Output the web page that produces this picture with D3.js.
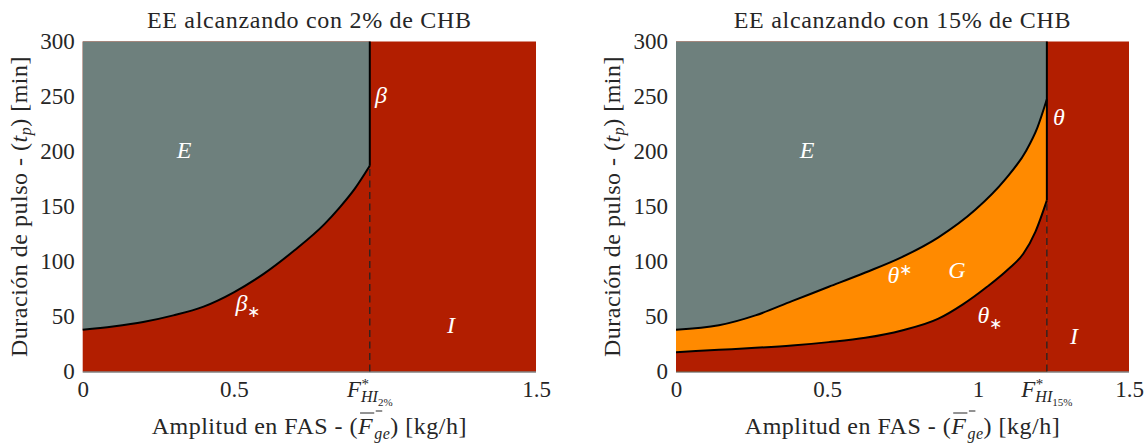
<!DOCTYPE html>
<html>
<head>
<meta charset="utf-8">
<script src="https://cdn.jsdelivr.net/npm/d3@7"></script>
<style>
  html, body { margin: 0; padding: 0; background: #fff; }
  svg { display: block; }
</style>
</head>
<body>
<svg id="chart" width="1146" height="445"></svg>
<script>
// ---------- data ----------
const yTicks = [0, 50, 100, 150, 200, 250, 300];
const xTicksLeft = [0, 0.5, 1.5];
const xTicksRight = [0, 0.5, 1, 1.5];

const titleLeft = "EE alcanzando con 2% de CHB";
const titleRight = "EE alcanzando con 15% de CHB";

// left panel: boundary beta_* (E / I) and F*_HI2%
const fStarLeft = 0.95;
const betaX = [0, 0.1, 0.2, 0.3, 0.4, 0.5, 0.6, 0.7, 0.8, 0.85, 0.9, 0.95];
const betaY = [38, 41, 45, 51, 59, 72, 89, 110, 134, 149, 166, 187];

// right panel: theta^* (E / G) and theta_* (G / I) and F*_HI15%
const fStarRight = 1.228;
const thetaUpX = [0, 0.142, 0.263, 0.384, 0.506, 0.627, 0.748, 0.869, 0.991, 1.088, 1.16, 1.197, 1.228];
const thetaUpY = [38, 42, 51, 64, 77, 90, 104, 122, 147, 174, 201, 222, 247.5];
const thetaLoX = [0, 0.142, 0.263, 0.384, 0.506, 0.627, 0.748, 0.869, 0.95, 1.03, 1.1, 1.15, 1.19, 1.228];
const thetaLoY = [17.6, 19.7, 21.5, 23.7, 26.7, 30.6, 37.3, 48, 61, 77, 93, 107, 127, 155.6];

// ---------- style ----------
const C_GRAY = "#6e807d", C_RED = "#b21e00", C_ORANGE = "#ff8a00", C_TXT = "#262626";
const FONT = '"Liberation Serif", "Times New Roman", serif';
const FS = 24, FS_TICK = 23;

const svg = d3.select("#chart");
const styl = (sel, size) => sel.style("font-family", FONT).style("font-size", size + "px");

function makePanel(opt) {
  const x = d3.scaleLinear().domain([0, 1.5]).range([opt.x0, opt.x1]);
  const y = d3.scaleLinear().domain([0, 300]).range([371.5, 41.5]);
  const g = svg.append("g");
  const line = d3.line().x(d => x(d[0])).y(d => y(d[1])).curve(d3.curveMonotoneX);

  // background (I region)
  g.append("rect").attr("x", x(0)).attr("y", y(300))
    .attr("width", x(1.5) - x(0)).attr("height", y(0) - y(300)).attr("fill", C_RED);

  const fs = opt.fStar;
  if (opt.lower) {
    g.append("path").attr("fill", C_ORANGE)
      .attr("d", line(opt.upper) + `L${x(fs)},${y(0)}L${x(0)},${y(0)}Z`);
    g.append("path").attr("fill", C_RED)
      .attr("d", line(opt.lower) + `L${x(fs)},${y(0)}L${x(0)},${y(0)}Z`);
  }
  g.append("path").attr("fill", C_GRAY)
    .attr("d", line(opt.upper) + `L${x(fs)},${y(300)}L${x(0)},${y(300)}Z`);

  // boundary lines
  const curves = opt.lower ? [opt.upper, opt.lower] : [opt.upper];
  curves.forEach(c => g.append("path").attr("fill", "none").attr("stroke", "#000")
    .attr("stroke-width", 2).attr("d", line(c)));
  const lowC = opt.lower || opt.upper;
  const lowEnd = lowC[lowC.length - 1][1];
  g.append("line").attr("x1", x(fs)).attr("x2", x(fs)).attr("y1", y(lowEnd)).attr("y2", y(300))
    .attr("stroke", "#000").attr("stroke-width", 2);
  g.append("line").attr("x1", x(fs)).attr("x2", x(fs)).attr("y1", y(0)).attr("y2", y(lowEnd))
    .attr("stroke", "#222").attr("stroke-width", 1.3).attr("stroke-dasharray", "7,4.5");

  // bottom frame line
  g.append("line").attr("x1", x(0)).attr("x2", x(1.5)).attr("y1", y(0) + 0.5).attr("y2", y(0) + 0.5)
    .attr("stroke", "#444").attr("stroke-width", 1);

  // axes
  const ya = g.append("g").attr("transform", `translate(${x(0)},0)`)
    .call(d3.axisLeft(y).tickValues(yTicks).tickSize(0).tickPadding(8).tickFormat(d => String(d)));
  ya.select(".domain").remove();
  styl(ya.selectAll("text"), FS_TICK).attr("fill", C_TXT);

  const xa = g.append("g").attr("transform", `translate(0,${y(0)})`)
    .call(d3.axisBottom(x).tickValues(opt.xTicks).tickSize(0).tickPadding(9).tickFormat(d => String(d)));
  xa.select(".domain").remove();
  styl(xa.selectAll("text"), FS_TICK).attr("fill", C_TXT);

  // F* tick label (F, superscript *, subscript HI, sub-subscript %)
  const ft = styl(g.append("text"), FS_TICK).attr("x", x(fs)).attr("y", 397)
    .attr("text-anchor", "middle").attr("fill", C_TXT);
  ft.append("tspan").style("font-style", "italic").text("F");
  ft.append("tspan").style("font-size", "15px").attr("dy", -8).attr("dx", 0.5).text("*");
  ft.append("tspan").style("font-style", "italic").style("font-size", "16px").attr("dy", 13).attr("dx", -8).text("HI");
  ft.append("tspan").style("font-size", "11px").attr("dy", 4).text(opt.pct);

  // title
  styl(g.append("text"), FS).attr("x", (x(0) + x(1.5)) / 2).attr("y", 28).attr("text-anchor", "middle")
    .attr("fill", C_TXT).style("letter-spacing", "0.7px").text(opt.title);

  // x label
  const xl = styl(g.append("text"), FS).attr("x", (x(0) + x(1.5)) / 2).attr("y", 434)
    .attr("text-anchor", "middle").attr("fill", C_TXT).style("letter-spacing", "0.5px");
  const pre = "Amplitud en FAS - (";
  xl.append("tspan").text(pre);
  xl.append("tspan").style("font-style", "italic").text("F");
  xl.append("tspan").style("font-style", "italic").style("font-size", "16px").attr("dy", 5).attr("dx", 1).text("ge");
  xl.append("tspan").attr("dy", -5).text(") [kg/h]");
  const node = xl.node();
  const f0 = node.getStartPositionOfChar(pre.length).x, f1 = node.getEndPositionOfChar(pre.length).x;
  g.append("line").attr("x1", f0 + 2).attr("x2", f1 + 1).attr("y1", 413).attr("y2", 413)
    .attr("stroke", C_TXT).attr("stroke-width", 1);
  g.append("line").attr("x1", f1 + 2.5).attr("x2", f1 + 9).attr("y1", 411).attr("y2", 411)
    .attr("stroke", C_TXT).attr("stroke-width", 1);

  // y label
  const yl = styl(g.append("text"), FS)
    .attr("transform", `translate(${opt.ylx},${(y(0) + y(300)) / 2}) rotate(-90)`)
    .attr("text-anchor", "middle").attr("fill", C_TXT).style("letter-spacing", "0.5px");
  yl.append("tspan").text("Duración de pulso - (");
  yl.append("tspan").style("font-style", "italic").text("t");
  yl.append("tspan").style("font-style", "italic").style("font-size", "16px").attr("dy", 4).text("p");
  yl.append("tspan").attr("dy", -4).text(") [min]");

  // region labels
  opt.labels.forEach(l => {
    const t = styl(g.append("text"), FS).attr("x", l.x).attr("y", l.y).attr("text-anchor", "middle")
      .style("font-style", "italic").attr("fill", "#fff");
    t.append("tspan").text(l.t);
    if (l.sub) t.append("tspan").style("font-size", "16px").style("font-style", "normal").attr("dy", 6).text(l.sub);
    if (l.sup) t.append("tspan").style("font-size", "16px").style("font-style", "normal").attr("dy", -8).text(l.sup);
  });
}

makePanel({
  x0: 82.7, x1: 536, fStar: fStarLeft, xTicks: xTicksLeft, pct: "2%", title: titleLeft, ylx: 27,
  upper: betaX.map((v, i) => [v, betaY[i]]),
  labels: [
    { t: "E", x: 184, y: 158 },
    { t: "β", x: 381, y: 103 },
    { t: "β", sub: "∗", x: 248, y: 311 },
    { t: "I", x: 451, y: 333 }
  ]
});

makePanel({
  x0: 676, x1: 1129, fStar: fStarRight, xTicks: xTicksRight, pct: "15%", title: titleRight, ylx: 620,
  upper: thetaUpX.map((v, i) => [v, thetaUpY[i]]),
  lower: thetaLoX.map((v, i) => [v, thetaLoY[i]]),
  labels: [
    { t: "E", x: 807, y: 158 },
    { t: "θ", x: 1059, y: 125 },
    { t: "θ", sup: "∗", x: 900, y: 283 },
    { t: "G", x: 957, y: 278 },
    { t: "θ", sub: "∗", x: 990, y: 323 },
    { t: "I", x: 1074, y: 344 }
  ]
});
</script>
</body>
</html>
